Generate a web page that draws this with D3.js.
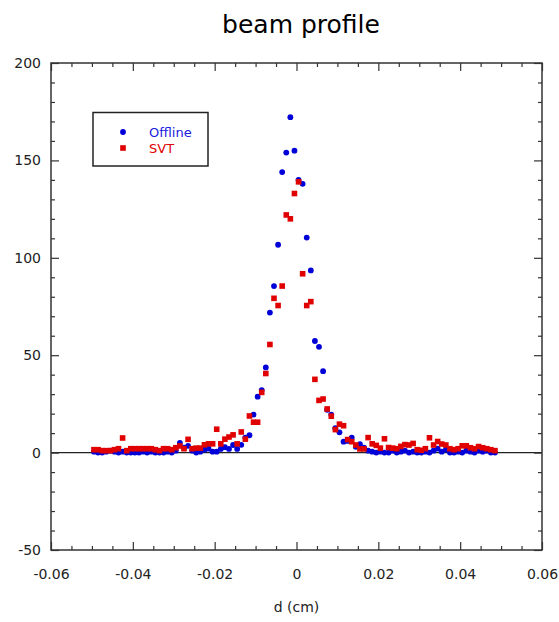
<!DOCTYPE html>
<html><head><meta charset="utf-8">
<script src="https://cdn.jsdelivr.net/npm/d3@7"></script>
<style>body{margin:0;background:#fff} svg{display:block}</style>
</head><body><svg id="c" width="559" height="622"></svg>
<script>
const chartTitle = "beam profile";
const xAxisLabel = "d (cm)";
const xTickValues = [-0.06, -0.04, -0.02, 0, 0.02, 0.04, 0.06];
const xTickLabels = ["-0.06", "-0.04", "-0.02", "0", "0.02", "0.04", "0.06"];
const yTickValues = [-50, 0, 50, 100, 150, 200];
const yTickLabels = ["-50", "0", "50", "100", "150", "200"];
const seriesNames = ["Offline", "SVT"];
const seriesColors = ["#0000d8", "#e00000"];
// bin centres (cm), 0.001 cm bins from -0.05 to 0.049
const binCenters = d3.range(-50, 49).map(k => (k + 0.5) / 1000);
const offline = [
  0.5, 0, 0, 0.5, 1, 0.5, 0, 0.5, 0, 0,
  0, 0, 0.5, 0, 0.5, 0, 0, 0, 0.5, 0,
  1, 5, 2.5, 3.5, 1, 0, 0.5, 1.5, 2, 0.5,
  0.5, 1.9, 2.8, 1.9, 3.9, 1.9, 4, 7.7, 8.9, 19.5,
  28.7, 32.1, 43.7, 71.9, 85.5, 106.7, 144, 154, 172.2, 155,
  140, 138, 110.4, 93.5, 57.3, 54.3, 41.8, 22, 19.5, 12.5,
  10.4, 5.6, 6, 7.7, 3, 4.3, 2.5, 1, 0.5, 0,
  0.5, 0, 0, 1, 0, 0.5, 1, 0, 0.5, 0,
  0, 0.5, 0, 1, 2, 0.5, 1.5, 0, 0, 0.5,
  0, 1, 0.5, 0, 1, 0.5, 1, 0, 0
];
const svt = [
  1.5, 1.5, 1, 1, 1, 1.5, 2, 7.5, 1, 2,
  2, 2, 2, 2, 2, 1.5, 1, 2, 2, 1.5,
  2.5, 3.4, 2, 6.8, 2, 2.3, 2.3, 4, 4.5, 4.5,
  12, 4.5, 6.9, 8, 9.1, 4.5, 10.6, 6.9, 18.8, 15.6,
  15.6, 30.9, 40.6, 55.5, 79.2, 75.5, 85.5, 122, 120, 133,
  139, 91.8, 75.5, 77.5, 37.6, 26.8, 27.5, 22.4, 18.7, 11.8,
  14.6, 13.8, 6.7, 5.6, 3.9, 1.9, 1.9, 7.7, 4.5, 3.7,
  2.3, 7.1, 2.6, 2.3, 2, 3.2, 4.1, 3.9, 4.7, 1.5,
  1.2, 2, 7.6, 3.9, 5.7, 4.4, 3.9, 2, 1.5, 2,
  3.5, 3.5, 2.5, 2, 3.1, 2.5, 2, 1.5, 1
];

const svg = d3.select("#c");
const font = "DejaVu Sans";
const L = 51, R = 542, T = 63, B = 550;
const x = d3.scaleLinear().domain([-0.06, 0.06]).range([L, R]);
const y = d3.scaleLinear().domain([-50, 200]).range([B, T]);

const xMinor = d3.range(-60, 61, 5).filter(v => v % 20 !== 0).map(v => v / 1000);
const yMinor = d3.range(-50, 201, 10).filter(v => v % 50 !== 0);

// title
svg.append("text").attr("x", 301).attr("y", 33).attr("text-anchor", "middle")
  .attr("font-family", font).attr("font-size", 25).attr("fill", "#000").text(chartTitle);

// zero line
svg.append("line").attr("x1", L).attr("x2", R).attr("y1", y(0)).attr("y2", y(0))
  .attr("stroke", "#222").attr("stroke-width", 1.2);

function styleAxis(g) {
  g.select(".domain").remove();
  g.selectAll(".tick line").attr("stroke", "#333").attr("stroke-width", 1.2);
  g.selectAll(".tick text").attr("font-family", font).attr("font-size", 14).attr("fill", "#222");
}

// bottom
svg.append("g").attr("transform", `translate(0,${B})`)
  .call(d3.axisBottom(x).tickValues(xTickValues).tickSize(-8).tickPadding(19)
    .tickFormat((d, i) => xTickLabels[i])).call(styleAxis);
svg.append("g").attr("transform", `translate(0,${B})`)
  .call(d3.axisBottom(x).tickValues(xMinor).tickSize(-4).tickFormat("")).call(styleAxis);
// top
svg.append("g").attr("transform", `translate(0,${T})`)
  .call(d3.axisTop(x).tickValues(xTickValues).tickSize(-8).tickFormat("")).call(styleAxis);
svg.append("g").attr("transform", `translate(0,${T})`)
  .call(d3.axisTop(x).tickValues(xMinor).tickSize(-4).tickFormat("")).call(styleAxis);
// left
svg.append("g").attr("transform", `translate(${L},0)`)
  .call(d3.axisLeft(y).tickValues(yTickValues).tickSize(-8).tickPadding(10)
    .tickFormat((d, i) => yTickLabels[i])).call(styleAxis);
svg.append("g").attr("transform", `translate(${L},0)`)
  .call(d3.axisLeft(y).tickValues(yMinor).tickSize(-4).tickFormat("")).call(styleAxis);
// right
svg.append("g").attr("transform", `translate(${R},0)`)
  .call(d3.axisRight(y).tickValues(yTickValues).tickSize(-8).tickFormat("")).call(styleAxis);
svg.append("g").attr("transform", `translate(${R},0)`)
  .call(d3.axisRight(y).tickValues(yMinor).tickSize(-4).tickFormat("")).call(styleAxis);

// frame
svg.append("rect").attr("x", L).attr("y", T).attr("width", R - L).attr("height", B - T)
  .attr("fill", "none").attr("stroke", "#333").attr("stroke-width", 1.5);

// x label
svg.append("text").attr("x", (L + R) / 2).attr("y", 612).attr("text-anchor", "middle")
  .attr("font-family", font).attr("font-size", 14).attr("fill", "#222").text(xAxisLabel);

// data
const sq = 5.6;
svg.append("g").selectAll("circle").data(binCenters.map((d, i) => [d, offline[i]])).join("circle")
  .attr("cx", d => x(d[0])).attr("cy", d => y(d[1])).attr("r", 2.9).attr("fill", seriesColors[0]);
svg.append("g").selectAll("rect").data(binCenters.map((d, i) => [d, svt[i]])).join("rect")
  .attr("x", d => x(d[0]) - sq / 2).attr("y", d => y(d[1]) - sq / 2)
  .attr("width", sq).attr("height", sq).attr("fill", seriesColors[1]);

// legend
const lg = svg.append("g");
lg.append("rect").attr("x", 93).attr("y", 112.5).attr("width", 115).attr("height", 53.5)
  .attr("fill", "#fff").attr("stroke", "#222").attr("stroke-width", 1.5);
lg.append("circle").attr("cx", 123).attr("cy", 132).attr("r", 2.9).attr("fill", seriesColors[0]);
lg.append("rect").attr("x", 123 - sq / 2).attr("y", 148 - sq / 2).attr("width", sq).attr("height", sq)
  .attr("fill", seriesColors[1]);
seriesNames.forEach((n, i) => {
  lg.append("text").attr("x", 149).attr("y", 137 + i * 16).attr("font-family", font)
    .attr("font-size", 13).attr("fill", i === 0 ? "#2020e0" : "#e00000").text(n);
});
</script></body></html>
